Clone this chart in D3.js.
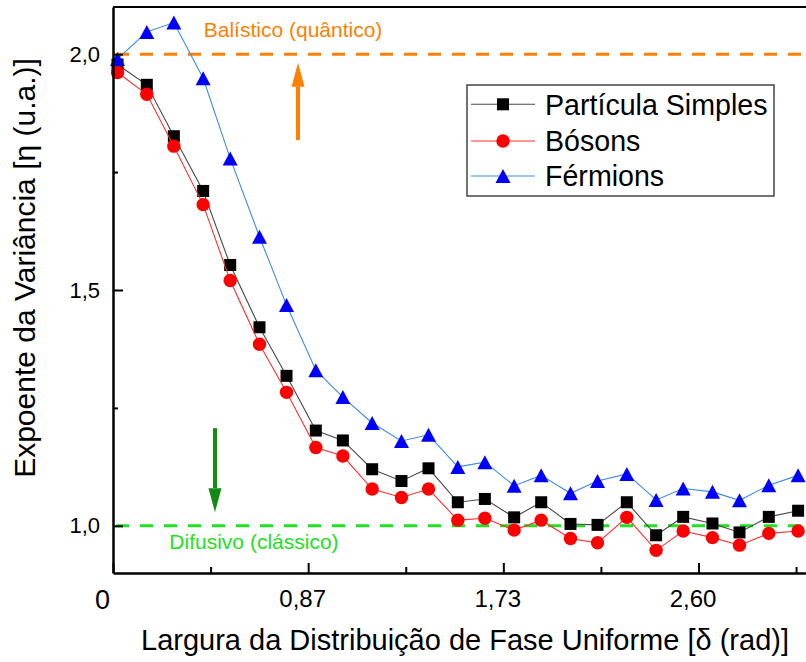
<!DOCTYPE html>
<html>
<head>
<meta charset="utf-8">
<script src="https://cdn.jsdelivr.net/npm/d3@7"></script>
<style>
  html, body { margin: 0; padding: 0; background: #fff; }
  svg { display: block; }
  text { font-family: Arial, "Liberation Sans", sans-serif; }
</style>
</head>
<body>
<svg id="chart" width="806" height="662"></svg>
<script>
// ---- data ----
const delta = [0.02, 0.15, 0.27, 0.40, 0.52, 0.65, 0.77, 0.90, 1.02, 1.15, 1.28, 1.40, 1.53,
               1.65, 1.78, 1.90, 2.03, 2.15, 2.28, 2.41, 2.53, 2.66, 2.78, 2.91, 3.04];
const singleParticle = [1.978, 1.935, 1.826, 1.710, 1.553, 1.421, 1.318, 1.202, 1.181, 1.120, 1.095, 1.122, 1.050,
                        1.057, 1.018, 1.050, 1.004, 1.002, 1.050, 0.980, 1.019, 1.005, 0.986, 1.019, 1.032];
const bosons = [1.961, 1.915, 1.805, 1.681, 1.520, 1.385, 1.283, 1.166, 1.148, 1.078, 1.060, 1.078, 1.012,
                1.016, 0.991, 1.012, 0.973, 0.964, 1.018, 0.948, 0.989, 0.975, 0.959, 0.984, 0.989];
const fermions = [1.990, 2.047, 2.067, 1.949, 1.779, 1.613, 1.468, 1.330, 1.273, 1.218, 1.180, 1.193, 1.125,
                  1.135, 1.085, 1.107, 1.069, 1.095, 1.110, 1.055, 1.079, 1.072, 1.054, 1.086, 1.107];
const seriesNames = ["Partícula Simples", "Bósons", "Férmions"];
const xTickValues = [0, 0.866, 1.732, 2.598];
const xTickLabels = ["0", "0,87", "1,73", "2,60"];
const xMinorTicks = [0.433, 1.299, 2.165, 3.031];
const yTickValues = [1.0, 1.5, 2.0];
const yTickLabels = ["1,0", "1,5", "2,0"];
const yMinorTicks = [1.25, 1.75];
const refLevels = [2.0, 1.0];
const refLabels = ["Balístico (quântico)", "Difusivo (clássico)"];
const xTitle = "Largura da Distribuição de Fase Uniforme [δ (rad)]";
const yTitle = "Expoente da Variância [η (u.a.)]";

// ---- layout ----
const svg = d3.select("#chart");
const mLeft = 113, mTop = 7, mRight = 821, mBottom = 573;
const x = d3.scaleLinear().domain([0, Math.PI]).range([mLeft, mRight]);
const y = d3.scaleLinear().domain([0.9, 2.1]).range([mBottom, mTop]);

// reference dashed lines
const refColors = ["#ff8000", "#22e022"];
svg.selectAll("line.ref").data(refLevels).join("line")
  .attr("class", "ref")
  .attr("x1", x(0) + 2).attr("x2", x(Math.PI))
  .attr("y1", d => y(d)).attr("y2", d => y(d))
  .attr("stroke", (d, i) => refColors[i])
  .attr("stroke-width", 3)
  .attr("stroke-dasharray", "13,11")
  .attr("stroke-dashoffset", -1);

// reference labels
const refLabelPos = [[0.799, 2.036], [0.6255, 0.951]];
svg.selectAll("text.reflab").data(refLabels).join("text")
  .attr("class", "reflab")
  .attr("x", (d, i) => x(refLabelPos[i][0]))
  .attr("y", (d, i) => y(refLabelPos[i][1]))
  .attr("text-anchor", "middle")
  .attr("font-size", 21)
  .attr("fill", (d, i) => refColors[i])
  .text(d => d);

// arrows
const arrows = [
  {x: 0.821, from: 1.818, to: 1.982, color: "#ff8000"},
  {x: 0.4525, from: 1.207, to: 1.029, color: "#138a13"}
];
arrows.forEach(a => {
  const ax = x(a.x), y0 = y(a.from), y1 = y(a.to);
  const dir = y1 < y0 ? 1 : -1;
  const headLen = 24, headHalf = 6.5;
  svg.append("line")
    .attr("x1", ax).attr("x2", ax)
    .attr("y1", y0).attr("y2", y1 + dir * headLen)
    .attr("stroke", a.color).attr("stroke-width", 4);
  svg.append("path")
    .attr("d", `M${ax},${y1} L${ax - headHalf},${y1 + dir * headLen} L${ax + headHalf},${y1 + dir * headLen} Z`)
    .attr("fill", a.color);
});

// series
const series = [
  {name: seriesNames[0], values: singleParticle, line: "#4a4a4a", fill: "#000000", shape: "square"},
  {name: seriesNames[1], values: bosons, line: "#ff3030", fill: "#ff0000", shape: "circle"},
  {name: seriesNames[2], values: fermions, line: "#3b8de8", fill: "#0000ff", shape: "triangle"}
];
function drawMarker(g, shape, cx, cy, fill) {
  if (shape === "square") {
    g.append("rect").attr("x", cx - 6).attr("y", cy - 6).attr("width", 12).attr("height", 12).attr("fill", fill);
  } else if (shape === "circle") {
    g.append("circle").attr("cx", cx).attr("cy", cy).attr("r", 6.7).attr("fill", fill);
  } else {
    g.append("path").attr("d", `M${cx},${cy - 7} L${cx + 7.5},${cy + 7} L${cx - 7.5},${cy + 7} Z`).attr("fill", fill);
  }
}
const lineGen = d3.line().x(d => x(d[0])).y(d => y(d[1]));
series.forEach(s => {
  const pts = delta.map((d, i) => [d, s.values[i]]);
  const g = svg.append("g");
  g.append("path").attr("d", lineGen(pts)).attr("fill", "none")
    .attr("stroke", s.line).attr("stroke-width", 1.1);
  pts.forEach(p => drawMarker(g, s.shape, x(p[0]), y(p[1]), s.fill));
});

// axes
const fmtY = (d) => yTickLabels[yTickValues.indexOf(d)];
const yAxis = svg.append("g").attr("transform", `translate(${mLeft},0)`)
  .call(d3.axisLeft(y).tickValues(yTickValues).tickFormat(fmtY).tickSizeInner(-10).tickSizeOuter(0).tickPadding(13));
yAxis.select(".domain").attr("stroke-width", 2.5).attr("stroke", "#000");
yAxis.selectAll(".tick line").attr("stroke-width", 2);
yAxis.selectAll("text").attr("font-size", 22).attr("fill", "#000").attr("font-family", "Arial, 'Liberation Sans', sans-serif");
const yMinor = svg.append("g").attr("transform", `translate(${mLeft},0)`)
  .call(d3.axisLeft(y).tickValues(yMinorTicks).tickFormat("").tickSizeInner(-5).tickSizeOuter(0));
yMinor.select(".domain").remove();
yMinor.selectAll(".tick line").attr("stroke-width", 2);

const fmtX = (d) => xTickLabels[xTickValues.indexOf(d)];
const xAxis = svg.append("g").attr("transform", `translate(0,${mBottom})`)
  .call(d3.axisBottom(x).tickValues(xTickValues).tickFormat(fmtX).tickSizeInner(-10).tickSizeOuter(0).tickPadding(17));
xAxis.select(".domain").attr("stroke-width", 2.5).attr("stroke", "#000");
xAxis.selectAll(".tick line").attr("stroke-width", 2);
xAxis.selectAll("text").attr("font-size", (d) => d === 0 ? 27 : 24).attr("fill", "#000")
  .attr("dx", (d) => d === 0 ? -11 : -6)
  .attr("font-family", "Arial, 'Liberation Sans', sans-serif");
const xMinor = svg.append("g").attr("transform", `translate(0,${mBottom})`)
  .call(d3.axisBottom(x).tickValues(xMinorTicks).tickFormat("").tickSizeInner(-6).tickSizeOuter(0));
xMinor.select(".domain").remove();
xMinor.selectAll(".tick line").attr("stroke-width", 2);

// top / right border
svg.append("line").attr("x1", mLeft).attr("x2", mRight).attr("y1", mTop).attr("y2", mTop)
  .attr("stroke", "#000").attr("stroke-width", 2);
svg.append("line").attr("x1", mRight).attr("x2", mRight).attr("y1", mTop).attr("y2", mBottom)
  .attr("stroke", "#000").attr("stroke-width", 2);

// axis titles
svg.append("text").attr("x", (mLeft + mRight) / 2 - 2).attr("y", 650)
  .attr("text-anchor", "middle").attr("font-size", 29).attr("fill", "#000").text(xTitle);
svg.append("text").attr("transform", `translate(35,268) rotate(-90)`)
  .attr("text-anchor", "middle").attr("font-size", 30).attr("fill", "#000").text(yTitle);

// legend
const lg = svg.append("g");
lg.append("rect").attr("x", 467).attr("y", 85).attr("width", 307).attr("height", 111)
  .attr("fill", "#fff").attr("stroke", "#444").attr("stroke-width", 1.5);
const rowY = [104.3, 141, 176];
series.forEach((s, i) => {
  lg.append("line").attr("x1", 471).attr("x2", 535).attr("y1", rowY[i]).attr("y2", rowY[i])
    .attr("stroke", s.line).attr("stroke-width", 1.1);
  drawMarker(lg, s.shape, 503, rowY[i], s.fill);
  lg.append("text").attr("x", 545).attr("y", rowY[i] + 10.3)
    .attr("font-size", 28.6).attr("fill", "#000").text(s.name);
});
</script>
</body>
</html>
